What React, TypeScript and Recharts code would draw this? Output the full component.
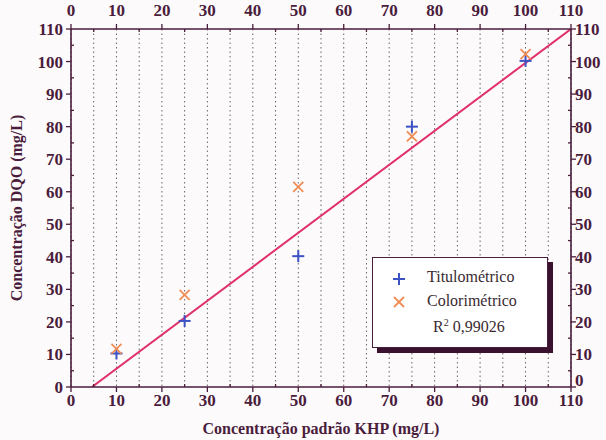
import React from "react";
import { ScatterChart, Scatter, XAxis, YAxis, CartesianGrid, ReferenceLine } from "recharts";

const titulometricoX = [10, 25, 50, 75, 100];
const titulometricoY = [10.3, 20.3, 40.2, 80, 100.2];
const colorimetricoX = [10, 25, 50, 75, 100];
const colorimetricoY = [11.7, 28.3, 61.5, 77, 102.3];
const fitLine = [{ x: 4.6, y: 0 }, { x: 110, y: 110 }];
const axisTicks = [0, 5, 10, 15, 20, 25, 30, 35, 40, 45, 50, 55, 60, 65, 70, 75, 80, 85, 90, 95, 100, 105, 110];
const r2Label = "0,99026";

const titData = titulometricoX.map((x, i) => ({ x, y: titulometricoY[i] }));
const colData = colorimetricoX.map((x, i) => ({ x, y: colorimetricoY[i] }));

const INK = "#4a1d3c";
const FONT = "'Liberation Serif', 'DejaVu Serif', serif";

const PlusShape = (p: any) => {
  const { cx, cy } = p;
  const s = 6;
  return (
    <g>
      <line x1={cx - s} y1={cy} x2={cx + s} y2={cy} stroke="#3d52c4" strokeWidth={2} />
      <line x1={cx} y1={cy - s} x2={cx} y2={cy + s} stroke="#3d52c4" strokeWidth={2} />
    </g>
  );
};
const CrossShape = (p: any) => {
  const { cx, cy } = p;
  const s = 5;
  return (
    <g>
      <line x1={cx - s} y1={cy - s} x2={cx + s} y2={cy + s} stroke="#f08d55" strokeWidth={1.8} />
      <line x1={cx - s} y1={cy + s} x2={cx + s} y2={cy - s} stroke="#f08d55" strokeWidth={1.8} />
    </g>
  );
};
const NoShape = () => <g />;

const makeTick = (side: "bottom" | "top" | "left" | "right") => (props: any) => {
  const { x, y, payload } = props;
  const v = payload.value;
  const major = v % 10 === 0;
  const out = 5;
  const inn = 3;
  const tl = { stroke: INK, strokeWidth: 1.3 };
  const txt = { fill: INK, fontFamily: FONT, fontWeight: 700, fontSize: 17 } as any;
  if (side === "bottom") {
    return (
      <g>
        {major ? <line x1={x} y1={y} x2={x} y2={y + out} {...tl} /> : <line x1={x} y1={y} x2={x} y2={y - inn} {...tl} />}
        {major && <text x={x} y={y + 19} textAnchor="middle" {...txt}>{v}</text>}
      </g>
    );
  }
  if (side === "top") {
    return (
      <g>
        {major ? <line x1={x} y1={y} x2={x} y2={y - out} {...tl} /> : <line x1={x} y1={y} x2={x} y2={y + inn} {...tl} />}
        {major && <text x={x} y={y - 13} textAnchor="middle" {...txt}>{v}</text>}
      </g>
    );
  }
  if (side === "left") {
    return (
      <g>
        {major ? <line x1={x} y1={y} x2={x - out} y2={y} {...tl} /> : <line x1={x} y1={y} x2={x + inn} y2={y} {...tl} />}
        {major && <text x={x - 8} y={y + 6} textAnchor="end" {...txt}>{v}</text>}
      </g>
    );
  }
  return (
    <g>
      {major ? <line x1={x} y1={y} x2={x + out} y2={y} {...tl} /> : <line x1={x} y1={y} x2={x - inn} y2={y} {...tl} />}
      {major && <text x={x + 4} y={y + (v === 0 ? -1 : 6)} textAnchor="start" {...txt}>{v}</text>}
    </g>
  );
};

const LegendBox = () => (
  <div style={{ position: "absolute", left: 372, top: 257, width: 182, height: 96 }}>
    <div style={{ position: "absolute", left: 5, top: 5, width: 176, height: 91, background: "#3a1230" }} />
    <div
      style={{
        position: "absolute", left: 0, top: 0, width: 174, height: 89,
        background: "#fff", border: `1.5px solid ${INK}`, fontFamily: FONT, fontSize: 16, color: "#3a2a30",
      }}
    >
      <svg style={{ position: "absolute", left: 18, top: 13 }} width={16} height={16}>
        <line x1={2} y1={8} x2={14} y2={8} stroke="#3d52c4" strokeWidth={2} />
        <line x1={8} y1={2} x2={8} y2={14} stroke="#3d52c4" strokeWidth={2} />
      </svg>
      <div style={{ position: "absolute", left: 54, top: 10 }}>Titulométrico</div>
      <svg style={{ position: "absolute", left: 19, top: 37 }} width={14} height={14}>
        <line x1={2} y1={2} x2={12} y2={12} stroke="#f08d55" strokeWidth={1.8} />
        <line x1={2} y1={12} x2={12} y2={2} stroke="#f08d55" strokeWidth={1.8} />
      </svg>
      <div style={{ position: "absolute", left: 54, top: 34 }}>Colorimétrico</div>
      <div style={{ position: "absolute", left: 60, top: 59 }}>
        R<sup style={{ fontSize: 10 }}>2</sup> {r2Label}
      </div>
    </div>
  </div>
);

export default function App() {
  return (
    <div style={{ position: "absolute", left: 0, top: 0, width: 606, height: 440, background: "#fdfafc" }}>
      <ScatterChart width={606} height={440} margin={{ top: 0, right: 0, bottom: 0, left: 0 }}>
        <CartesianGrid xAxisId="b" yAxisId="l" horizontal={false} stroke="#666" strokeDasharray="1.5 3" />
        <XAxis
          xAxisId="b" dataKey="x" type="number" domain={[0, 110]} ticks={axisTicks} interval={0}
          height={53} tickSize={0} tickMargin={0} tickLine={false} tick={makeTick("bottom")}
          axisLine={{ stroke: INK, strokeWidth: 1.6 }}
          label={{ value: "Concentração padrão KHP (mg/L)", position: "insideBottom", offset: 6, fill: INK, fontFamily: FONT, fontWeight: 700, fontSize: 16 }}
        />
        <XAxis
          xAxisId="t" dataKey="x" orientation="top" type="number" domain={[0, 110]} ticks={axisTicks} interval={0}
          height={29} tickSize={0} tickMargin={0} tickLine={false} tick={makeTick("top")}
          axisLine={{ stroke: INK, strokeWidth: 1.6 }}
        />
        <YAxis
          yAxisId="l" dataKey="y" type="number" domain={[0, 110]} ticks={axisTicks} interval={0}
          width={71} tickSize={0} tickMargin={0} tickLine={false} tick={makeTick("left")}
          axisLine={{ stroke: INK, strokeWidth: 1.6 }}
          label={{ value: "Concentração DQO (mg/L)", angle: -90, position: "insideLeft", offset: 16, style: { textAnchor: "middle" }, fill: INK, fontFamily: FONT, fontWeight: 700, fontSize: 16 }}
        />
        <YAxis
          yAxisId="r" dataKey="y" orientation="right" type="number" domain={[0, 110]} ticks={axisTicks} interval={0}
          width={35} tickSize={0} tickMargin={0} tickLine={false} tick={makeTick("right")}
          axisLine={{ stroke: INK, strokeWidth: 1.6 }}
        />
        <ReferenceLine xAxisId="b" yAxisId="l" segment={fitLine} stroke="#e0306a" strokeWidth={2} ifOverflow="hidden" />
        <Scatter xAxisId="t" yAxisId="r" name="mirror" data={titData} shape={NoShape} isAnimationActive={false} legendType="none" />
        <Scatter xAxisId="b" yAxisId="l" name="Titulométrico" data={titData} shape={PlusShape} isAnimationActive={false} />
        <Scatter xAxisId="b" yAxisId="l" name="Colorimétrico" data={colData} shape={CrossShape} isAnimationActive={false} />
      </ScatterChart>
      <LegendBox />
    </div>
  );
}
